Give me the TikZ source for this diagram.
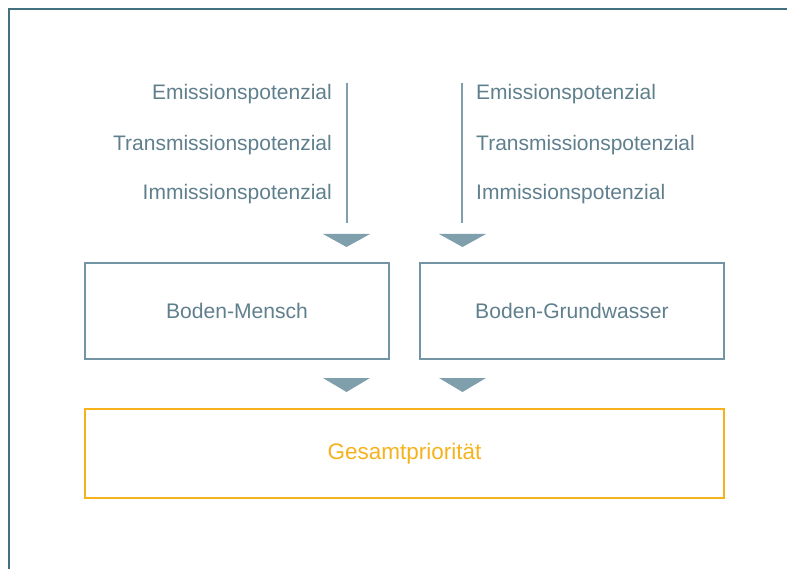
\documentclass[tikz,border=0pt]{standalone}
\usepackage{fontspec}
\setmainfont{Liberation Sans}
\usetikzlibrary{positioning}
\definecolor{frame}{HTML}{41707F}
\definecolor{txt}{HTML}{5F7F8D}
\definecolor{ln}{HTML}{809FAD}
\definecolor{boxc}{HTML}{7294A3}
\definecolor{gold}{HTML}{F6B21C}
\tikzset{
  lbl/.style={text=txt, font=\fontsize{21}{24}\selectfont, inner sep=0pt},
  box/.style={draw=boxc, line width=1.3pt, minimum width=304pt, minimum height=96pt, inner sep=0pt, text=txt, font=\fontsize{21.1}{24}\selectfont},
  tri/.style={fill=ln, draw=none},
  vline/.style={draw=ln, line width=2pt},
}
\begin{document}
\begin{tikzpicture}[x=1pt,y=-1pt]
\useasboundingbox (0,0) rectangle (787,569);
\draw[frame, line width=2pt] (9,569) -- (9,9) -- (787,9);
% texts
\node[lbl, anchor=east] (le) at (332,94) {Emissionspotenzial};
\node[lbl, anchor=east] (lt) at (332,145) {Transmissionspotenzial};
\node[lbl, anchor=east] (li) at (332,194) {Immissionspotenzial};
\node[lbl, anchor=west] (re) at (476,94) {Emissionspotenzial};
\node[lbl, anchor=west] (rt) at (476,145) {Transmissionspotenzial};
\node[lbl, anchor=west] (ri) at (476,194) {Immissionspotenzial};
% vertical lines
\coordinate (ltop) at (346.5,83);
\coordinate (lbot) at (346.5,223);
\coordinate (rtop) at (461.5,83);
\coordinate (rbot) at (461.5,223);
\draw[vline] (ltop) -- (lbot);
\draw[vline] (rtop) -- (rbot);
% triangles upper
\fill[tri] (323,234) -- (370,234) -- (346.5,247) -- cycle;
\fill[tri] (439,234) -- (486,234) -- (462.5,247) -- cycle;
% boxes
\node[box] (bm) at (237,311) {Boden-Mensch};
\node[box] (bg) at (572,311) {Boden-Grundwasser};
% triangles lower
\fill[tri] (323,378) -- (370,378) -- (346.5,392) -- cycle;
\fill[tri] (439,378) -- (486,378) -- (462.5,392) -- cycle;
% total
\node[draw=gold, line width=1.3pt, minimum width=639pt, minimum height=89pt, inner sep=0pt, text=gold, font=\fontsize{22.5}{24}\selectfont] (gp) at (404.5,453.5) {Gesamtpriorität};
\end{tikzpicture}
\end{document}
